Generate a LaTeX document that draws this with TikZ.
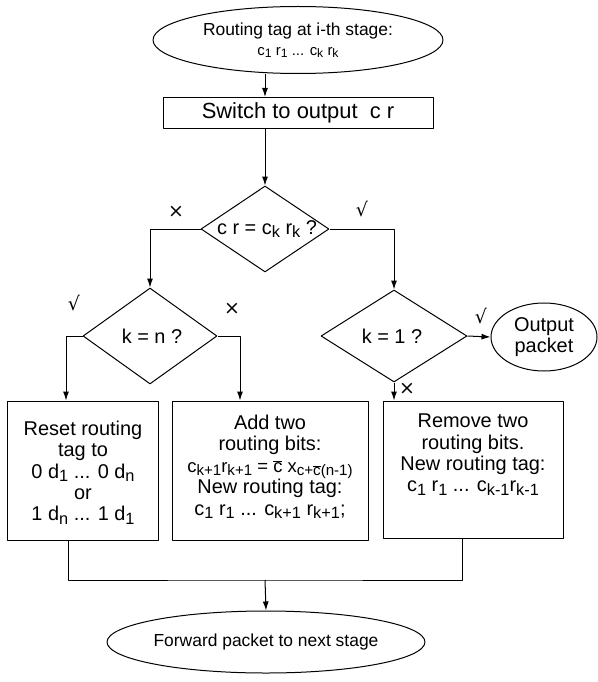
\documentclass[tikz,border=0pt]{standalone}
\usepackage{fontspec}
\setmainfont{Liberation Sans}
\newfontfamily\markfont{DejaVu Sans}
\usetikzlibrary{shapes,arrows,arrows.meta,positioning,calc}
% index letters: a little smaller and a little lower
\newcommand{\idx}[1]{\raisebox{-0.3ex}{\scalebox{0.82}{#1}}}

\begin{document}
\begin{tikzpicture}[>={Latex[length=9bp,width=6bp]},line join=bevel,x=1bp,y=-1bp,
  every node/.style={font=\fontsize{20}{21.5}\selectfont},
  term/.style={draw,ellipse,inner sep=0pt,align=center},
  procbox/.style={draw,rectangle,inner sep=0pt},
  test/.style={draw,diamond,inner sep=0pt},
  boxtext/.style={anchor=north,align=center,inner sep=0pt},
  answer/.style={font=\markfont\fontsize{19}{19}\selectfont}]
\pgfsetlinewidth{1bp}
\useasboundingbox (0,0) rectangle (598,682);
% terminals
\node[term,minimum width=290bp,minimum height=67bp,font=\fontsize{17.5}{20}\selectfont] (start) at (298,40)
  {Routing tag at i-th stage:\\{\fontsize{15}{17}\selectfont c\idx{1} r\idx{1} ... c\idx{k} r\idx{k}}};
\node[term,minimum width=106bp,minimum height=68bp] (out) at (544,337) {Output\\packet};
\node[term,minimum width=234bp,minimum height=62bp,font=\fontsize{17.5}{20}\selectfont] (fwd) at (266,642) {Forward packet to next stage};
% switch box and tests
\node[procbox,minimum width=270bp,minimum height=31bp,font=\fontsize{22}{24}\selectfont] (switch) at (298,113) {Switch to output\ \ c r};
\node[test,minimum width=128bp,minimum height=86bp] (cmp) at (265,229) {};
\node[test,minimum width=134bp,minimum height=96bp] (kn) at (150,336) {};
\node[test,minimum width=146bp,minimum height=92bp] (k1) at (394,336) {};
\node (cmptext) at ([xshift=2bp]cmp.center) {c r = c\idx{k} r\idx{k} ?};
\node (kntext) at ([xshift=2bp]kn.center) {k = n ?};
\node (k1text) at ([xshift=-2bp]k1.center) {k = 1 ?};
% result boxes
\node[procbox,minimum width=150bp,minimum height=139bp] (reset) at (83,470.5) {};
\node[procbox,minimum width=196bp,minimum height=139bp] (add) at (270,470.5) {};
\node[procbox,minimum width=180bp,minimum height=137bp] (remove) at (473,469.5) {};
\node[align=center,inner sep=0pt] (resettext) at ([yshift=-2bp]reset.center)
  {Reset routing\\tag to\\0 d\idx{1} ... 0 d\idx{n}\\or\\1 d\idx{n} ... 1 d\idx{1}};
\node[boxtext] (addtext) at ([yshift=-14bp]add.north)
  {Add two\\routing bits:\\{\fontsize{18.5}{21.5}\selectfont c\idx{k+1}r\idx{k+1} = $\overline{\mbox{c}}$ x\idx{c+$\overline{\mbox{c}}$(n-1)}}\\New routing tag:\\c\idx{1} r\idx{1} ... c\idx{k+1} r\idx{k+1};};
\node[boxtext] (removetext) at ([yshift=-13bp]remove.north)
  {Remove two\\routing bits.\\New routing tag:\\c\idx{1} r\idx{1} ... c\idx{k-1}r\idx{k-1}};
\coordinate (join) at (265,580);
% connectors
\draw[->] (start.south -| cmp.north) -- (switch.north -| cmp.north);
\draw[->] (switch.south -| cmp.north) -- (cmp.north);
\draw[->] (cmp.west) -| (kn.north);
\draw[->] (cmp.east) -| (k1.north);
\draw[->] (kn.west) -| ([xshift=-17bp]reset.north);
\draw[->] (kn.east) -| ([xshift=-30bp]add.north);
\draw[->] (k1.east) -- (out.west);
\draw[->] (k1.south) -- (remove.north -| k1.south);
\draw ([xshift=-15bp]reset.south) |- (join) -| ([xshift=-11bp]remove.south);
\draw[->] (join) -- (fwd.north);
% yes / no marks
\node[answer] (no1) at (176,212) {×};
\node[answer] (yes1) at (362,209) {√};
\node[answer] (yes2) at (74,303) {√};
\node[answer] (no2) at (232,309) {×};
\node[answer] (yes3) at (481,316) {√};
\node[answer] (no3) at (407,389) {×};
\end{tikzpicture}
\end{document}
